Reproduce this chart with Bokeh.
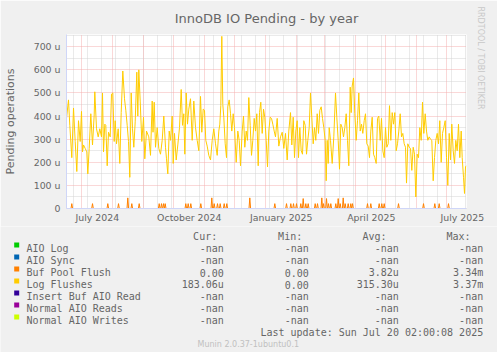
from bokeh.plotting import figure
from bokeh.models import Range1d, FixedTicker, Grid, Title
from bokeh.layouts import column
from bokeh.core.properties import value
from bokeh.embed import file_html
from bokeh.resources import INLINE

# ---------------- data (x = days since 2024-07-01) ----------------
log_days = [-15.3, -13.3, -12.0, -10.0, -8.3, -6.6, -5.0, -3.3, -1.6, -0.3, 0.7, 1.7, 3.4, 5.0, 6.0, 7.4, 9.0,
            10.7, 12.4, 13.0, 14.7, 16.4, 18.0, 19.7, 20.7, 21.7, 23.0, 24.0, 25.4, 26.7, 28.4, 29.7, 31.0,
            32.4, 33.4, 34.7, 36.4, 38.0, 39.4, 41.0, 42.7, 44.0, 45.4, 46.7, 48.0, 49.4, 50.7, 52.0, 53.4,
            55.0, 56.0, 57.0, 58.4, 60.0, 61.7, 63.0, 64.7,
            67.0, 68.7, 70.4, 71.2, 72.4, 73.7, 75.4, 77.0, 78.7, 80.4, 82.0, 83.7, 84.7, 86.0, 87.4, 88.7,
            90.4, 91.4, 92.7, 94.4, 96.0, 97.7, 99.4, 100.7, 102.0, 103.0, 104.4, 105.7, 107.0, 108.7, 110.4,
            112.0, 113.7, 115.4, 117.0, 118.7, 120.0, 121.4, 122.7, 124.0, 125.4, 127.0, 128.7, 130.4, 132.0,
            133.7, 135.4, 137.0, 138.0, 139.0, 140.0, 141.0, 142.0, 143.4, 144.7, 146.0, 147.4, 148.7, 150.0,
            151.4, 152.7, 154.4, 156.0, 157.4, 158.7, 160.4, 161.7, 163.0, 164.4, 165.7, 167.0, 168.4, 169.7,
            171.0, 172.4, 173.7, 175.0, 176.4, 177.7, 179.0, 180.4, 181.7, 183.0, 184.4, 185.7, 187.0, 188.4,
            189.7, 191.0, 192.4, 193.7, 195.4, 197.0, 198.7,
            200.4, 202.0, 203.7, 205.4, 207.0, 208.7, 210.0, 211.4, 212.7, 214.0, 215.4, 216.7, 218.0, 219.4,
            220.7, 222.0, 223.4, 224.7, 226.0, 227.4, 228.7, 230.0, 231.4, 232.7, 234.0, 235.4, 236.7, 238.0,
            239.4, 240.7, 242.0, 243.4, 244.4, 245.4, 246.4, 247.4, 248.7, 250.4, 252.0, 253.7, 255.0, 256.4,
            257.7, 259.0, 260.4, 261.7, 263.0, 264.4, 265.7, 267.0, 268.4, 269.4, 270.4, 271.7, 273.0, 274.4,
            275.7, 277.0, 278.4, 279.7, 281.0, 282.4, 283.7, 285.0, 286.4, 287.7, 289.0, 290.4, 291.7, 293.0,
            294.4, 295.7, 297.0, 298.4, 299.7, 301.0, 302.4, 303.7, 305.0, 306.4, 307.7, 309.0, 310.4, 311.7,
            313.0, 314.4, 315.7, 317.0, 318.4, 319.7, 321.0, 322.4, 323.7, 324.7, 326.0, 327.4, 328.7, 330.0,
            331.4, 332.7, 334.0, 335.4, 336.7, 338.0, 339.4, 340.7, 342.0, 343.4, 344.7, 346.0, 347.4, 348.7,
            350.0, 351.4, 352.7, 354.0, 355.4, 356.7, 358.0, 359.4, 360.7, 362.0, 363.4, 364.7, 366.0, 367.4,
            368.7, 370.0, 371.4, 372.7, 374.0, 375.4, 376.7, 378.0, 379.4, 380.4, 381.7, 382.7, 383.7, 384.4]
log_vals = [390, 470, 360, 220, 435, 290, 160, 380, 290, 420, 245, 275, 260, 245, 150, 260, 410,
            275, 405, 505, 345, 310, 345, 310, 500, 245, 365, 360, 185, 330, 310, 495, 500,
            290, 380, 280, 345, 195, 415, 595, 475, 425, 360, 290, 135, 500, 345, 265, 375,
            590, 400, 600, 465, 290, 395, 215, 335,
            310, 230, 465, 330, 460, 265, 350, 260, 235, 295, 400, 265, 215, 150, 335, 295,
            400, 195, 325, 210, 275, 350, 515, 360, 410, 235, 500, 365, 430, 475, 295,
            465, 350, 295, 250, 485, 330, 430, 425, 295, 270, 230, 210, 295, 345,
            280, 230, 335, 365, 445, 745, 450, 395, 280, 220, 440, 470, 410, 335,
            410, 350, 200, 335, 295, 185, 335, 400, 265, 335, 295, 480, 360, 230,
            295, 390, 335, 410, 185, 415, 460, 325, 430, 395, 295, 180, 335, 395,
            390, 365, 335, 310, 390, 270, 310,
            330, 260, 325, 210, 335, 415, 275, 395, 220, 335, 380, 220, 350, 250,
            235, 380, 360, 235, 295, 350, 500, 395, 280, 350, 295, 410, 325, 425,
            440, 390, 350, 295, 120, 295, 195, 350, 295, 195, 310, 500, 395, 295,
            170, 365, 350, 310, 350, 410, 295, 185, 525, 415, 530, 565, 410, 295,
            380, 500, 335, 365, 325, 380, 410, 280, 270, 220, 335, 395, 235, 220,
            195, 390, 400, 295, 390, 250, 220, 350, 265, 280, 445, 295, 415, 365,
            415, 250, 280, 335, 410, 310, 325, 280, 265, 110, 280, 265, 260, 165,
            265, 235, 50, 235, 220, 350, 295, 460, 325, 410, 335, 295, 310, 300,
            295, 120, 220, 295, 325, 280, 380, 200, 325, 350, 380, 220, 100, 325,
            210, 365, 250, 195, 295, 250, 365, 220, 335, 220, 135, 65, 180, 185]

flush_spike_days = [-10.0, 10.7, 26.0, 36.7, 46.0, 50.0, 57.4, 77.4, 79.7, 81.7, 83.4, 104.0, 106.4, 109.0,
                    119.0, 130.0, 132.4, 135.7, 138.4, 142.4, 145.0, 168.0, 193.0, 204.7, 209.0, 211.7,
                    214.7, 219.0, 221.4, 224.0, 226.4, 233.4, 235.7, 240.0, 241.7, 244.7, 246.7, 249.0,
                    254.0, 256.4, 258.4, 261.4, 263.4, 266.4, 269.0, 270.7, 285.7, 289.0, 297.4, 300.0,
                    302.4, 316.7, 341.7, 353.0, 357.4, 366.7]
flush_spike_vals = [21, 21, 21, 21, 46, 21, 21, 21, 21, 21, 21, 21, 21, 21,
                    21, 46, 21, 21, 21, 21, 21, 46, 21, 21, 21, 21,
                    21, 21, 43, 21, 21, 21, 21, 46, 21, 43, 21, 21,
                    21, 43, 21, 46, 21, 21, 21, 21, 21, 21, 21, 21,
                    21, 21, 21, 21, 21, 21]

y_ticks = [0, 100, 200, 300, 400, 500, 600, 700]
y_tick_labels = ["0", "100 u", "200 u", "300 u", "400 u", "500 u", "600 u", "700 u"]
month_start_days = [0, 31, 62, 92, 123, 153, 184, 215, 243, 274, 304, 335, 365]
x_label_month_days = [0, 92, 184, 274, 365]
x_tick_labels = ["July 2024", "October 2024", "January 2025", "April 2025", "July 2025"]

legend_names = ["AIO Log", "AIO Sync", "Buf Pool Flush", "Log Flushes",
                "Insert Buf AIO Read", "Normal AIO Reads", "Normal AIO Writes"]
legend_colors = ["#00CC00", "#0066B3", "#FF8000", "#FFCC00", "#330099", "#990099", "#CCFF00"]
cur_vals = ["-nan", "-nan", "0.00", "183.06u", "-nan", "-nan", "-nan"]
min_vals = ["-nan", "-nan", "0.00", "0.00", "-nan", "-nan", "-nan"]
avg_vals = ["-nan", "-nan", "3.82u", "315.30u", "-nan", "-nan", "-nan"]
max_vals = ["-nan", "-nan", "3.34m", "3.37m", "-nan", "-nan", "-nan"]
col_headers = ["Cur:", "Min:", "Avg:", "Max:"]

# ---------------- layout ----------------
W, H = 497, 352
MAIN_H = 226
FL, FR, FT, FB = 66, 466, 33, 208
X0, X1 = -15.3, 384.7
Y0, Y1 = 0, 753
FONT = "#666666"
BG = "#F0F0F0"

p = figure(width=W, height=MAIN_H, output_backend="svg", toolbar_location=None,
           x_range=Range1d(X0, X1), y_range=Range1d(Y0, Y1),
           min_border_left=FL, min_border_right=W - FR, min_border_top=FT,
           min_border_bottom=MAIN_H - FB)
p.background_fill_color = "#FFFFFF"
p.border_fill_color = BG
p.outline_line_color = None

# title (above) and vertical credit (right)
p.title.text = "InnoDB IO Pending - by year"
p.title.align = "center"
p.title.offset = -17.5
p.title.text_font = "DejaVu Sans"
p.title.text_font_size = "13px"
p.title.text_font_style = "normal"
p.title.text_color = FONT
p.title.standoff = 17
p.add_layout(Title(text="RRDTOOL / TOBI OETIKER", align="left", offset=-28, standoff=19,
                   text_font="DejaVu Sans", text_font_size="8px", text_font_style="normal",
                   text_color="#C8C8C8"), "right")

# grids
p.xgrid.visible = False
p.ygrid.visible = False
minor_x = list(range(-8, 385, 14))
minor_y = list(range(50, 760, 100))
for ticks, color, dim in [(minor_x, "#D4D4D4", 0), (minor_y, "#D4D4D4", 1),
                          (month_start_days, "#F4B0B0", 0), (y_ticks[1:], "#F4B0B0", 1)]:
    p.add_layout(Grid(dimension=dim, ticker=FixedTicker(ticks=ticks), grid_line_color=color,
                      grid_line_dash="1 1", grid_line_width=1))

# axes
ya = p.yaxis[0]
ya.ticker = FixedTicker(ticks=y_ticks)
ya.major_label_overrides = {t: l for t, l in zip(y_ticks, y_tick_labels)}
ya.axis_label = "Pending operations"
ya.axis_label_text_font = "DejaVu Sans"
ya.axis_label_text_font_size = "11px"
ya.axis_label_text_font_style = "normal"
ya.axis_label_text_color = FONT
ya.axis_label_standoff = 14

xa = p.xaxis[0]
label_pos = [d + 15.5 for d in x_label_month_days]
xa.ticker = FixedTicker(ticks=label_pos)
xa.major_label_overrides = {t: l for t, l in zip(label_pos, x_tick_labels)}

for ax, standoff in [(ya, 6), (xa, 3)]:
    ax.major_label_text_font = "DejaVu Sans"
    ax.major_label_text_font_size = "9.4px"
    ax.major_label_text_color = FONT
    ax.major_label_standoff = standoff
    ax.major_tick_in = 0
    ax.major_tick_out = 0
    ax.minor_tick_in = 0
    ax.minor_tick_out = 0
    ax.axis_line_color = "#CFD6F8"

# series
fx, fy = [X0], [0]
for d, v in zip(flush_spike_days, flush_spike_vals):
    fx += [d - 0.8, d, d + 0.8]
    fy += [0, v, 0]
fx.append(X1)
fy.append(0)
p.line(fx, fy, line_color="#FF8000", line_width=1)
p.line(log_days, log_vals, line_color="#FFCC00", line_width=1)

# ---------------- legend panel (coordinates = page pixels) ----------------
leg = figure(width=W, height=H - MAIN_H, output_backend="svg", toolbar_location=None,
             x_range=Range1d(0, W), y_range=Range1d(H, MAIN_H),
             x_axis_type=None, y_axis_type=None, min_border=0)
leg.min_border_left = leg.min_border_right = leg.min_border_top = leg.min_border_bottom = 0
leg.background_fill_color = BG
leg.border_fill_color = BG
leg.outline_line_color = None
if hasattr(leg, "frame_align"):
    leg.frame_align = False
    p.frame_align = False

MONO = value("DejaVu Sans Mono")
ROW0, ROWH = 248, 12
col_right = [223.3, 308.3, 398.3, 482.7]
head_right = [216.7, 301.7, 386.0, 470.0]
rows_y = [ROW0 + ROWH * i for i in range(len(legend_names))]

leg.text(x=head_right, y=[236] * 4, text=col_headers, text_font=MONO, text_font_size="10px",
         text_color=FONT, text_align="right", text_baseline="alphabetic")
leg.scatter(x=[16.2] * len(rows_y), y=[yb - 3.6 for yb in rows_y], marker="square", size=5,
            fill_color=legend_colors, line_color=None)
leg.text(x=[26] * len(rows_y), y=rows_y, text=legend_names, text_font=MONO, text_font_size="10px",
         text_color=FONT, text_align="left", text_baseline="alphabetic")
for col, xr in zip([cur_vals, min_vals, avg_vals, max_vals], col_right):
    leg.text(x=[xr] * len(rows_y), y=rows_y, text=col, text_font=MONO, text_font_size="10px",
             text_color=FONT, text_align="right", text_baseline="alphabetic")
leg.text(x=[482.7], y=[332], text=["Last update: Sun Jul 20 02:00:08 2025"], text_font=MONO,
         text_font_size="10px", text_color=FONT, text_align="right", text_baseline="alphabetic")
leg.text(x=[247.8], y=[344], text=["Munin 2.0.37-1ubuntu0.1"], text_font=value("DejaVu Sans"),
         text_font_size="8px", text_color="#C0C0C0", text_align="center", text_baseline="alphabetic")

layout = column(p, leg, spacing=0)
open("out.html", "w").write(file_html(layout, INLINE))
